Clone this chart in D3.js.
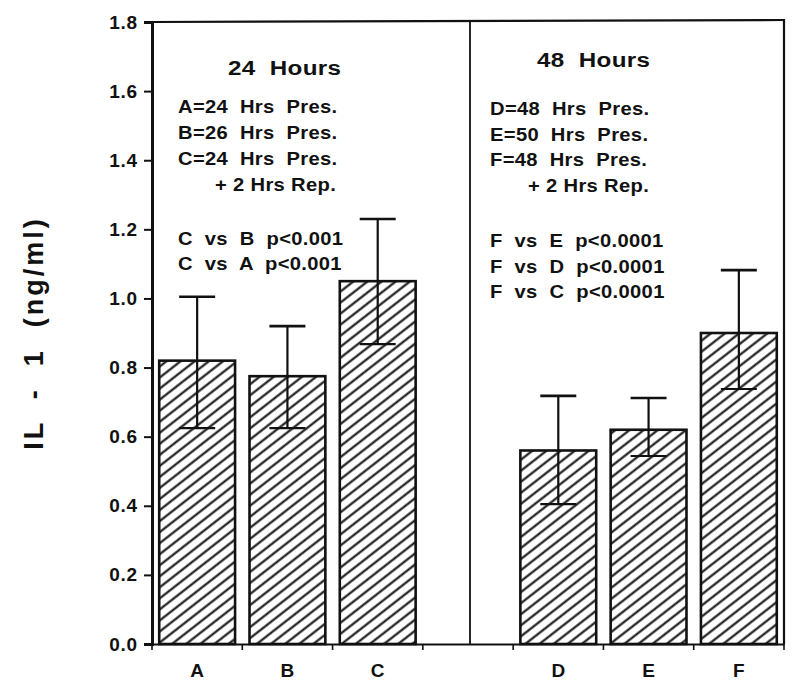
<!DOCTYPE html>
<html>
<head>
<meta charset="utf-8">
<script src="https://cdn.jsdelivr.net/npm/d3@7"></script>
<style>
  html, body { margin: 0; padding: 0; background: #fff; }
  svg { display: block; }
  text { font-family: "Liberation Sans", Arial, sans-serif; font-weight: bold; fill: #111; white-space: pre; }
</style>
</head>
<body>
<svg id="chart" width="800" height="690"></svg>
<script>
// ---- data ----
const slots = ["A", "B", "C", "", "D", "E", "F"];          // x categories (blank slot separates the panels)
const categories = ["A", "B", "C", "D", "E", "F"];
const means = [0.82, 0.775, 1.05, 0.56, 0.62, 0.90];
const errUpper = [1.005, 0.92, 1.23, 0.718, 0.712, 1.082];
const errLower = [0.625, 0.625, 0.868, 0.405, 0.544, 0.738];
const yTicks = [0.0, 0.2, 0.4, 0.6, 0.8, 1.0, 1.2, 1.4, 1.6, 1.8];
const yLabel = "IL  -  1  (ng/ml)";
const panelTitles = ["24  Hours", "48  Hours"];
const leftNotes = ["A=24  Hrs  Pres.", "B=26  Hrs  Pres.", "C=24  Hrs  Pres.", "+ 2 Hrs Rep."];
const leftStats = ["C  vs  B  p<0.001", "C  vs  A  p<0.001"];
const rightNotes = ["D=48  Hrs  Pres.", "E=50  Hrs  Pres.", "F=48  Hrs  Pres.", "+ 2 Hrs Rep."];
const rightStats = ["F  vs  E  p<0.0001", "F  vs  D  p<0.0001", "F  vs  C  p<0.0001"];

(function () {
// ---- layout ----
const svg = d3.select("#chart");
const pL = 152, pR = 784, pT = 22, pB = 644;

const x = d3.scaleBand().domain(slots).range([pL, pR]).paddingInner(0).paddingOuter(0);
const y = d3.scaleLinear().domain([0, 1.8]).range([pB, pT]);

// hatch pattern
const defs = svg.append("defs");
defs.append("pattern")
  .attr("id", "hatch")
  .attr("patternUnits", "userSpaceOnUse")
  .attr("width", 8.7).attr("height", 8.7)
  .attr("patternTransform", "rotate(-38)")
  .append("line")
  .attr("x1", -1).attr("x2", 10).attr("y1", 4.35).attr("y2", 4.35)
  .attr("stroke", "#111").attr("stroke-width", 2.1);

// bars
const bw = x.bandwidth() * 0.84;
const data = categories.map((c, i) => ({ c, m: means[i], hi: errUpper[i], lo: errLower[i] }));
const cx = d => x(d.c) + x.bandwidth() / 2;

svg.append("g").selectAll("rect").data(data).join("rect")
  .attr("x", d => cx(d) - bw / 2)
  .attr("width", bw)
  .attr("y", d => y(d.m))
  .attr("height", d => y(0) - y(d.m))
  .attr("fill", "url(#hatch)")
  .attr("stroke", "#111")
  .attr("stroke-width", 2.6);

// error bars
const eb = svg.append("g").attr("stroke", "#111").attr("stroke-width", 2.2);
eb.selectAll("line.v").data(data).join("line").attr("class", "v")
  .attr("x1", cx).attr("x2", cx)
  .attr("y1", d => y(d.lo)).attr("y2", d => y(d.hi));
eb.selectAll("line.t").data(data).join("line").attr("class", "t")
  .attr("x1", d => cx(d) - 18).attr("x2", d => cx(d) + 18)
  .attr("y1", d => y(d.hi)).attr("y2", d => y(d.hi)).attr("stroke-width", 2.6);
eb.selectAll("line.b").data(data).join("line").attr("class", "b")
  .attr("x1", d => cx(d) - 18).attr("x2", d => cx(d) + 18)
  .attr("y1", d => y(d.lo)).attr("y2", d => y(d.lo));

// frame
const frame = svg.append("g").attr("stroke", "#111").attr("fill", "none");
frame.append("line").attr("x1", pL).attr("x2", pR).attr("y1", pT).attr("y2", pT - 2).attr("stroke-width", 2.2);
frame.append("line").attr("x1", pR).attr("x2", pR).attr("y1", pT - 3).attr("y2", pB).attr("stroke-width", 2.2);
const divX = x("") + x.bandwidth() / 2 + 2;
frame.append("line").attr("x1", divX).attr("x2", divX).attr("y1", pT).attr("y2", pB).attr("stroke-width", 1.8);

// y axis
const yAxis = d3.axisLeft(y).tickValues(yTicks).tickFormat(d3.format(".1f")).tickSize(8).tickPadding(6);
const gy = svg.append("g").attr("transform", `translate(${pL},0)`).call(yAxis);
gy.select(".domain").attr("stroke", "#111").attr("stroke-width", 3);
gy.selectAll(".tick line").attr("stroke", "#111").attr("stroke-width", 2);
gy.selectAll(".tick text").attr("font-size", 19).attr("letter-spacing", 0.8).attr("fill", "#111")
  .style("font-family", "'Liberation Sans', Arial, sans-serif").style("font-weight", "bold");

// x axis (ticks at slot boundaries, labels at slot centers)
const xAxis = d3.axisBottom(x).tickSize(0).tickPadding(20).tickFormat(d => d);
const gx = svg.append("g").attr("transform", `translate(0,${pB})`).call(xAxis);
gx.select(".domain").attr("stroke", "#111").attr("stroke-width", 2.2);
gx.selectAll(".tick text").attr("font-size", 19).attr("fill", "#111")
  .style("font-family", "'Liberation Sans', Arial, sans-serif").style("font-weight", "bold");
gx.selectAll("line.bd").data(slots.map(s => x(s)).concat([pR])).join("line").attr("class", "bd")
  .attr("x1", d => d).attr("x2", d => d).attr("y1", 0).attr("y2", 6)
  .attr("stroke", "#111").attr("stroke-width", 1.6);

// y label
svg.append("text")
  .attr("transform", "translate(43,333) rotate(-90)")
  .attr("text-anchor", "middle")
  .attr("font-size", 27)
  .attr("letter-spacing", 3)
  .text(yLabel);

// annotations (wide bold lettering: horizontally stretched)
function label(t, x0, y0, size, sx, ls) {
  svg.append("g").attr("transform", `translate(${x0},${y0}) scale(${sx},1)`)
    .append("text").attr("x", 0).attr("y", 0)
    .attr("font-size", size).attr("letter-spacing", ls).text(t);
}
function block(lines, x0, ys, indentIdx, indentX) {
  lines.forEach((t, i) => label(t, i === indentIdx ? indentX : x0, ys[i], 18, 1.12, 0.3));
}
label(panelTitles[0], 228, 75, 20.5, 1.18, 0.3);
label(panelTitles[1], 537, 67, 20.5, 1.18, 0.3);
block(leftNotes, 178, [113, 139, 165, 191], 3, 215);
block(leftStats, 178, [245, 270], -1, 0);
block(rightNotes, 490, [115, 141, 166, 192], 3, 528);
block(rightStats, 490, [247, 273, 298], -1, 0);
})();
</script>
</body>
</html>
